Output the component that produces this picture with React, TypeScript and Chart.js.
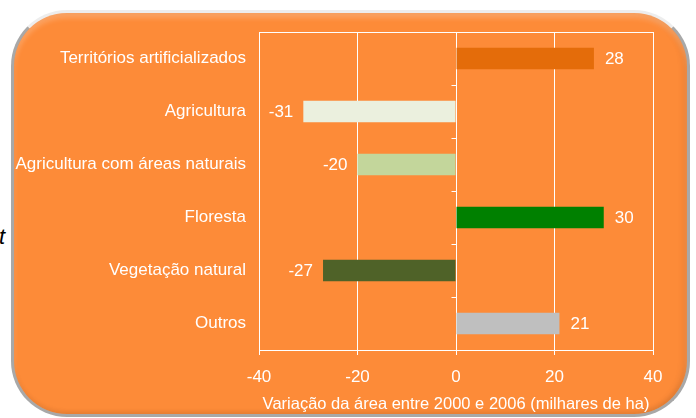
import React, { useEffect, useRef } from "react";
import { Chart, registerables } from "chart.js";

Chart.register(...registerables);

const categories = [
  "Territórios artificializados",
  "Agricultura",
  "Agricultura com áreas naturais",
  "Floresta",
  "Vegetação natural",
  "Outros",
];
const values = [28, -31, -20, 30, -27, 21];
const barColors = ["#E46C0A", "#EBF0DE", "#C3D69B", "#008000", "#4F6228", "#BFBFBF"];
const xMin = -40;
const xMax = 40;
const xStep = 20;
const xTitle = "Variação da área entre 2000 e 2006 (milhares de ha)";

const FONT = "'Liberation Sans', Arial, sans-serif";
const FS = 16.5;
const FS_LABEL = 17;

const framePlugin = {
  id: "frame",
  beforeDatasetsDraw(chart: any) {
    const { ctx, chartArea } = chart;
    const y = chart.scales.y;
    const x = chart.scales.x;
    ctx.save();
    ctx.strokeStyle = "#FFFFFF";
    ctx.lineWidth = 1;
    ctx.beginPath();
    ctx.moveTo(chartArea.left, Math.round(chartArea.top) + 0.5);
    ctx.lineTo(chartArea.right, Math.round(chartArea.top) + 0.5);
    ctx.stroke();
    const x0 = Math.round(x.getPixelForValue(0)) + 0.5;
    for (let i = 0; i < categories.length - 1; i++) {
      const yy = Math.round((y.getPixelForValue(i) + y.getPixelForValue(i + 1)) / 2) + 0.5;
      ctx.beginPath();
      ctx.moveTo(x0 - 5, yy);
      ctx.lineTo(x0, yy);
      ctx.stroke();
    }
    ctx.restore();
  },
  afterDatasetsDraw(chart: any) {
    const { ctx } = chart;
    const meta = chart.getDatasetMeta(0);
    ctx.save();
    ctx.fillStyle = "#FFFFFF";
    ctx.font = `${FS_LABEL}px ${FONT}`;
    ctx.textBaseline = "middle";
    meta.data.forEach((bar: any, i: number) => {
      const v = values[i];
      const label = String(v);
      if (v >= 0) {
        ctx.textAlign = "left";
        ctx.fillText(label, bar.x + 11, bar.y + 1);
      } else {
        ctx.textAlign = "right";
        ctx.fillText(label, bar.x - 10, bar.y + 1);
      }
    });
    ctx.restore();
  },
};

export default function App() {
  const canvasRef = useRef<HTMLCanvasElement | null>(null);

  useEffect(() => {
    const canvas = canvasRef.current;
    if (!canvas) return;
    const chart = new Chart(canvas, {
      type: "bar",
      data: {
        labels: categories,
        datasets: [
          {
            data: values,
            backgroundColor: barColors,
            borderWidth: 0,
            categoryPercentage: 1,
            barPercentage: 0.41,
          },
        ],
      },
      options: {
        indexAxis: "y",
        responsive: false,
        animation: false,
        devicePixelRatio: 1,
        layout: { padding: { top: 32, right: 43, bottom: 0, left: 0 } },
        plugins: {
          legend: { display: false },
          tooltip: { enabled: false },
        },
        scales: {
          x: {
            min: xMin,
            max: xMax,
            ticks: {
              stepSize: xStep,
              color: "#FFFFFF",
              font: { family: FONT, size: FS_LABEL },
              padding: 12,
            },
            grid: {
              color: "#FFFFFF",
              lineWidth: 1,
              drawTicks: true,
              tickLength: 5,
              tickColor: "#FFFFFF",
            },
            border: { display: true, color: "#FFFFFF", width: 1 },
            title: {
              display: true,
              text: xTitle,
              color: "#FFFFFF",
              font: { family: FONT, size: FS },
              padding: { top: 0, bottom: 4 },
            },
            afterFit(s: any) {
              s.height = 68;
            },
          },
          y: {
            ticks: {
              color: "#FFFFFF",
              font: { family: FONT, size: FS_LABEL },
              padding: 13,
            },
            grid: { display: false, drawTicks: false },
            border: { display: false },
            afterFit(s: any) {
              s.width = 259;
            },
          },
        },
      },
      plugins: [framePlugin],
    });
    return () => chart.destroy();
  }, []);

  return (
    <div
      style={{
        position: "fixed",
        left: 0,
        top: 0,
        width: 696,
        height: 418,
        overflow: "hidden",
        background: "#FFFFFF",
      }}
    >
      <div
        style={{
          position: "absolute",
          left: -1,
          top: 226,
          fontFamily: FONT,
          fontStyle: "italic",
          fontSize: 22,
          lineHeight: "22px",
          color: "#000000",
        }}
      >
        t
      </div>
      <div
        style={{
          position: "absolute",
          left: 11,
          top: 10,
          width: 679,
          height: 407,
          boxSizing: "border-box",
          borderRadius: 56,
          background: "#FD8B38",
          border: "3px solid #A8A8A8",
          borderTopColor: "#EDEDED",
          boxShadow:
            "inset 0 5px 5px rgba(255,255,255,0.22), inset -4px 0 6px rgba(0,0,0,0.08), inset 0 -3px 4px rgba(0,0,0,0.06)",
        }}
      />
      <canvas
        ref={canvasRef}
        width={696}
        height={418}
        style={{ position: "absolute", left: 0, top: 0, width: 696, height: 418 }}
      />
    </div>
  );
}
